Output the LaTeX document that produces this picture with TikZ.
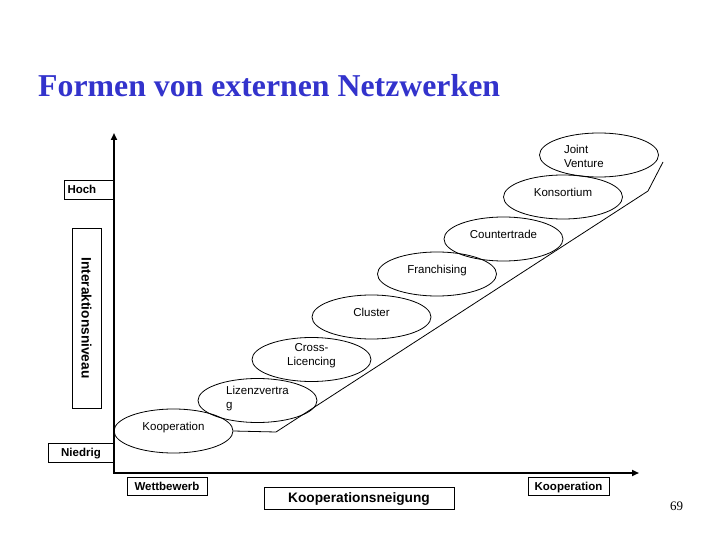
\documentclass[tikz,border=0pt]{standalone}
\usepackage{fontspec}
\setmainfont{Liberation Sans}
\newfontfamily\titlefont{Liberation Serif}
\usepackage{tikz}
\usetikzlibrary{shapes.geometric,arrows.meta,positioning}
\definecolor{titleBlue}{RGB}{51,51,204}
\tikzset{
  netEllipse/.style={draw, ellipse, line width=0.8pt, minimum width=119pt, minimum height=44pt,
    inner sep=0pt, font=\fontsize{11.5}{14}\selectfont},
  oneLine/.style={text depth=9pt},
  axisBox/.style={draw, line width=0.8pt, minimum height=19pt, inner xsep=3.5pt, inner ysep=0pt,
    text depth=0pt, font=\fontsize{11.5}{14}\selectfont\bfseries},
  axisLine/.style={line width=2.2pt, {Triangle[length=7pt,width=6pt]}-{Triangle[length=7pt,width=6pt]}}
}
\begin{document}
\begin{tikzpicture}[x=1pt, y=-1pt]
  \useasboundingbox (0,0) rectangle (720,540);
  \node[anchor=base west, inner sep=0pt, text=titleBlue, font=\titlefont\bfseries\fontsize{31.8}{36}\selectfont]
    (title) at (38,97) {Formen von externen Netzwerken};
  % Axes
  \coordinate (ytip) at (114,133);
  \coordinate (orig) at (114,473);
  \coordinate (xtip) at (639,473);
  \draw[axisLine] (ytip) -- (orig) -- (xtip);
  % Axis labels
  \node[axisBox, text width=42pt, align=left] (hoch) at (88.5,189.5) {Hoch};
  \node[axisBox, minimum width=66pt] (niedrig) at (81,452.5) {Niedrig};
  \node[axisBox, rotate=-90, minimum width=180pt, minimum height=29pt, font=\fontsize{13.7}{16}\selectfont\bfseries]
    (niveau) at (86.5,318) {Interaktionsniveau};
  \node[axisBox, minimum width=80pt, minimum height=18pt] (wett) at (167,486) {Wettbewerb};
  \node[axisBox, minimum width=81pt, minimum height=18pt] (koopAxis) at (568.5,486) {Kooperation};
  \node[axisBox, minimum width=190pt, minimum height=22pt, font=\fontsize{13.7}{16}\selectfont\bfseries]
    (neigung) at (359,498) {Kooperationsneigung};
  % Network forms
  \node[netEllipse, oneLine] (koop) at (173.5,431) {Kooperation};
  \node[netEllipse, align=left, text height=17.4pt] (lizenz) at (257.5,400.5) {Lizenzvertra\\g};
  \node[netEllipse, align=center, text height=13.4pt] (cross) at (311.5,359.5) {Cross-\\Licencing};
  \node[netEllipse, oneLine] (cluster) at (371.5,317) {Cluster};
  \node[netEllipse, oneLine] (franch) at (437,274) {Franchising};
  \node[netEllipse, oneLine] (counter) at (503.5,239) {Countertrade};
  \node[netEllipse, oneLine] (konsort) at (563,197) {Konsortium};
  \node[netEllipse, text width=70pt, align=left, text height=11.2pt] (joint) at (599,155) {Joint\\Venture};
  % Staircase line
  \coordinate (bendLow) at (276,432);
  \coordinate (bendHigh) at (648,191);
  \coordinate (lineEnd) at (663,162);
  \draw[line width=0.8pt] (koop.east) -- (bendLow) -- (bendHigh) -- (lineEnd);
  \node[inner sep=0pt, font=\titlefont\fontsize{13}{15}\selectfont] (pagenum) at (676.5,506) {69};
\end{tikzpicture}
\end{document}
